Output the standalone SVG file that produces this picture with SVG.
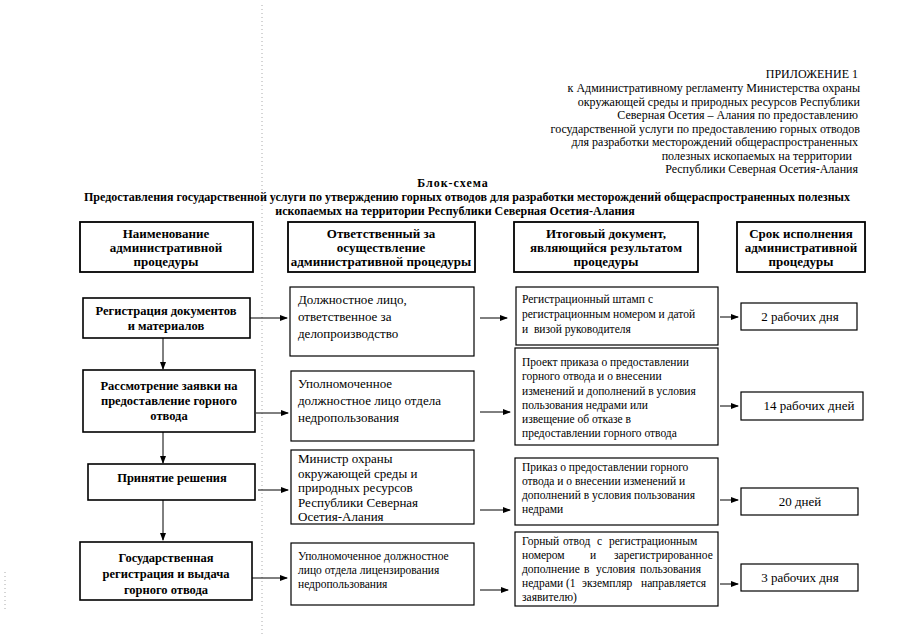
<svg xmlns="http://www.w3.org/2000/svg" width="905" height="640" viewBox="0 0 905 640">
<defs>
<marker id="ah" markerWidth="8" markerHeight="6" refX="7" refY="3" orient="auto" markerUnits="userSpaceOnUse">
<path d="M0,0 L8,3 L0,6 Z" fill="#000"/>
</marker>
<style>
text{font-family:"Liberation Serif","Times New Roman",serif;fill:#000}
.app{font-size:12px;text-anchor:end}
.ttl{font-size:12px;font-weight:bold;text-anchor:middle}
.hd{font-size:13px;font-weight:bold;text-anchor:middle}
.pr{font-size:12.5px;font-weight:bold;text-anchor:middle}
.rs{font-size:13px}
.rs2{font-size:11.5px}
.rt{font-size:11.5px}
.dl{font-size:13px;text-anchor:middle}
.box{fill:#fff;stroke:#000;stroke-width:1.2}
.hbox{fill:#fff;stroke:#000;stroke-width:1.8}
.pbox{fill:#fff;stroke:#000;stroke-width:1.6}
.con line{stroke:#000;stroke-width:1;marker-end:url(#ah)}
.scan{stroke:#aaa;stroke-width:1;stroke-dasharray:1 3;fill:none}
</style>
</defs>
<rect width="905" height="640" fill="#fff"/>
<line class="scan" x1="262" y1="5" x2="262" y2="635"/>
<line class="scan" x1="5" y1="572" x2="5" y2="612"/>

<g id="appendix">
<text class="app" x="858" y="78">ПРИЛОЖЕНИЕ 1</text>
<text class="app" x="860" y="92">к Административному регламенту Министерства охраны</text>
<text class="app" x="860" y="106">окружающей среды и природных ресурсов Республики</text>
<text class="app" x="858" y="119">Северная Осетия – Алания по предоставлению</text>
<text class="app" x="860" y="133">государственной услуги по предоставлению горных отводов</text>
<text class="app" x="858" y="146">для разработки месторождений общераспространенных</text>
<text class="app" x="852" y="160">полезных ископаемых на территории</text>
<text class="app" x="858" y="173">Республики Северная Осетия-Алания</text>
</g>

<g id="title">
<text class="ttl" x="453" y="187" letter-spacing="1">Блок-схема</text>
<text class="ttl" x="467" y="201" textLength="766" lengthAdjust="spacingAndGlyphs">Предоставления государственной услуги по утверждению горных отводов для разработки месторождений общераспространенных полезных</text>
<text class="ttl" x="455" y="215">ископаемых на территории Республики Северная Осетия-Алания</text>
</g>

<g id="h1"><rect class="hbox" x="80" y="222" width="173" height="50"/>
<text class="hd" x="166" y="238">Наименование</text><text class="hd" x="166" y="252">административной</text><text class="hd" x="166" y="266">процедуры</text></g>
<g id="h2"><rect class="hbox" x="288" y="222" width="187" height="50"/>
<text class="hd" x="381" y="238">Ответственный за</text><text class="hd" x="381" y="252">осуществление</text><text class="hd" x="381" y="266">административной процедуры</text></g>
<g id="h3"><rect class="hbox" x="514" y="222" width="184" height="50"/>
<text class="hd" x="606" y="238">Итоговый документ,</text><text class="hd" x="606" y="252">являющийся результатом</text><text class="hd" x="606" y="266">процедуры</text></g>
<g id="h4"><rect class="hbox" x="737" y="222" width="128" height="50"/>
<text class="hd" x="801" y="238">Срок исполнения</text><text class="hd" x="801" y="252">административной</text><text class="hd" x="801" y="266">процедуры</text></g>

<g id="p1"><rect class="pbox" x="83" y="298" width="167" height="40"/>
<text class="pr" x="166" y="315">Регистрация документов</text><text class="pr" x="166" y="330">и материалов</text></g>
<g id="r1"><rect class="box" x="290" y="287" width="184" height="69"/>
<text class="rs" x="298" y="304">Должностное лицо,</text><text class="rs" x="298" y="321">ответственное за</text><text class="rs" x="298" y="338">делопроизводство</text></g>
<g id="d1"><rect class="box" x="516" y="287" width="202" height="58"/>
<text class="rt" x="522" y="303">Регистрационный штамп с</text><text class="rt" x="522" y="318">регистрационным номером и датой</text><text class="rt" x="522" y="333" xml:space="preserve">и  визой руководителя</text></g>
<g id="t1"><rect class="box" x="741" y="303" width="116" height="27"/>
<text class="dl" x="800" y="321">2 рабочих дня</text></g>

<g id="p2"><rect class="pbox" x="83" y="370" width="172" height="62"/>
<text class="pr" x="169" y="390">Рассмотрение заявки на</text><text class="pr" x="169" y="405">предоставление горного</text><text class="pr" x="169" y="420">отвода</text></g>
<g id="r2"><rect class="box" x="291" y="371" width="183" height="70"/>
<text class="rs" x="298" y="388">Уполномоченное</text><text class="rs" x="298" y="405">должностное лицо отдела</text><text class="rs" x="298" y="422">недропользования</text></g>
<g id="d2"><rect class="box" x="515" y="348" width="203" height="97"/>
<text class="rt" x="522" y="366">Проект приказа о предоставлении</text><text class="rt" x="522" y="380">горного отвода и о внесении</text><text class="rt" x="522" y="395">изменений и дополнений в условия</text><text class="rt" x="522" y="409">пользования недрами или</text><text class="rt" x="522" y="423">извещение об отказе в</text><text class="rt" x="522" y="437">предоставлении горного отвода</text></g>
<g id="t2"><rect class="box" x="741" y="392" width="122" height="28"/>
<text class="dl" x="809" y="410">14 рабочих дней</text></g>

<g id="p3"><rect class="pbox" x="88" y="464" width="167" height="36"/>
<text class="pr" x="172" y="482">Принятие решения</text></g>
<g id="r3"><rect class="box" x="291" y="450" width="183" height="74"/>
<text class="rs" x="298" y="463">Министр охраны</text><text class="rs" x="298" y="477.5">окружающей среды и</text><text class="rs" x="298" y="492">природных ресурсов</text><text class="rs" x="298" y="506.5">Республики Северная</text><text class="rs" x="298" y="521">Осетия-Алания</text></g>
<g id="d3"><rect class="box" x="515" y="458" width="203" height="67"/>
<text class="rt" x="522" y="471">Приказ о предоставлении горного</text><text class="rt" x="522" y="485">отвода и о внесении изменений и</text><text class="rt" x="522" y="499">дополнений в условия пользования</text><text class="rt" x="522" y="513">недрами</text></g>
<g id="t3"><rect class="box" x="741" y="488" width="117" height="27"/>
<text class="dl" x="800" y="506">20 дней</text></g>

<g id="p4"><rect class="pbox" x="80" y="542" width="172" height="58"/>
<text class="pr" x="166" y="562">Государственная</text><text class="pr" x="166" y="578">регистрация и выдача</text><text class="pr" x="166" y="594">горного отвода</text></g>
<g id="r4"><rect class="box" x="291" y="543" width="183" height="62"/>
<text class="rs2" x="298" y="560">Уполномоченное должностное</text><text class="rs2" x="298" y="574">лицо отдела лицензирования</text><text class="rs2" x="298" y="588">недропользования</text></g>
<g id="d4"><rect class="box" x="515" y="532" width="203" height="74"/>
<text class="rt" y="545"><tspan x="522">Горный</tspan><tspan x="563">отвод</tspan><tspan x="597">с</tspan><tspan x="609">регистрационным</tspan></text>
<text class="rt" y="559"><tspan x="522">номером</tspan><tspan x="590">и</tspan><tspan x="614">зарегистрированное</tspan></text>
<text class="rt" y="573"><tspan x="522">дополнение</tspan><tspan x="584">в</tspan><tspan x="596">условия</tspan><tspan x="640">пользования</tspan></text>
<text class="rt" y="587"><tspan x="522">недрами</tspan><tspan x="566">(1</tspan><tspan x="582">экземпляр</tspan><tspan x="641">направляется</tspan></text>
<text class="rt" x="522" y="601">заявителю)</text></g>
<g id="t4"><rect class="box" x="741" y="564" width="117" height="27"/>
<text class="dl" x="800" y="582">3 рабочих дня</text></g>

<g id="connectors" class="con">
<line x1="163" y1="338" x2="163" y2="369"/>
<line x1="163" y1="432" x2="163" y2="463"/>
<line x1="163" y1="500" x2="163" y2="540"/>
<line x1="250" y1="318" x2="287" y2="318"/>
<line x1="480" y1="318" x2="507" y2="318"/>
<line x1="720" y1="317" x2="738" y2="317"/>
<line x1="256" y1="413" x2="288" y2="413"/>
<line x1="480" y1="412" x2="510" y2="412"/>
<line x1="720" y1="406" x2="738" y2="406"/>
<line x1="258" y1="490" x2="288" y2="490"/>
<line x1="480" y1="510" x2="510" y2="510"/>
<line x1="720" y1="500" x2="738" y2="500"/>
<line x1="252" y1="578" x2="287" y2="578"/>
<line x1="480" y1="590" x2="508" y2="590"/>
<line x1="720" y1="584" x2="738" y2="584"/>
</g>
</svg>
